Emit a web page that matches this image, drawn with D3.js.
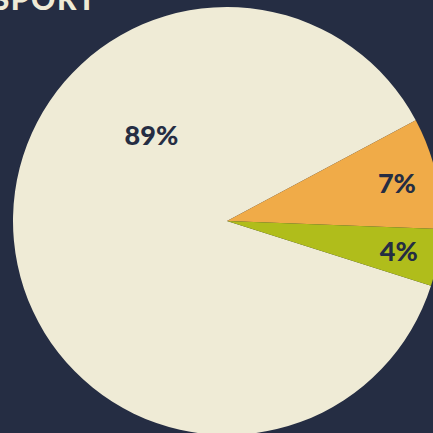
<!DOCTYPE html>
<html>
<head>
<meta charset="utf-8">
<script src="https://cdn.jsdelivr.net/npm/d3@7"></script>
<style>
  html, body { margin: 0; padding: 0; background: #252d43; }
  svg { display: block; }
</style>
</head>
<body>
<script>
// slice shares as drawn (angles) and the printed labels
const categories = ["Other", "Share A", "Share B"];
const values = [87.3, 8.4, 4.3];
const labels = ["89%", "7%", "4%"];
const title = "TRANSPORT";

const width = 433, height = 433;
const cx = 227, cy = 221, radius = 214;
const colors = ["#efebd6", "#f0ab48", "#b0bd1b"];

const svg = d3.select("body").append("svg")
  .attr("width", width)
  .attr("height", height);

svg.append("rect")
  .attr("width", width)
  .attr("height", height)
  .attr("fill", "#252d43");

const start = 107.6 * Math.PI / 180;
const pie = d3.pie().sort(null).startAngle(start).endAngle(start + 2 * Math.PI);
const arcs = pie(values);

const arc = d3.arc().innerRadius(0).outerRadius(radius);

const g = svg.append("g").attr("transform", `translate(${cx},${cy})`);

g.selectAll("path")
  .data(arcs)
  .enter()
  .append("path")
  .attr("d", arc)
  .attr("fill", (d, i) => colors[i]);

// small slices get their label at the mid angle, the big one sits up-left
function labelPos(d, i) {
  let a, r;
  if (i === 0) { a = 318.5 * Math.PI / 180; r = radius * 0.54; }
  else { a = (d.startAngle + d.endAngle) / 2; r = radius * 0.81; }
  return [Math.sin(a) * r, -Math.cos(a) * r];
}

g.selectAll("text.lbl")
  .data(arcs)
  .enter()
  .append("text")
  .attr("class", "lbl")
  .attr("x", (d, i) => labelPos(d, i)[0] + 1)
  .attr("y", (d, i) => labelPos(d, i)[1])
  .attr("text-anchor", "middle")
  .attr("dominant-baseline", "central")
  .attr("font-family", "Lato, sans-serif")
  .attr("font-weight", 900)
  .attr("font-size", 27)
  .attr("fill", "#252d43")
  .text((d, i) => labels[i]);

svg.append("text")
  .attr("x", 97)
  .attr("y", 10)
  .attr("text-anchor", "end")
  .attr("font-family", "Lato, sans-serif")
  .attr("font-weight", 900)
  .attr("font-size", 30)
  .attr("letter-spacing", 1.5)
  .attr("fill", "#efebd6")
  .text(title);
</script>
</body>
</html>
